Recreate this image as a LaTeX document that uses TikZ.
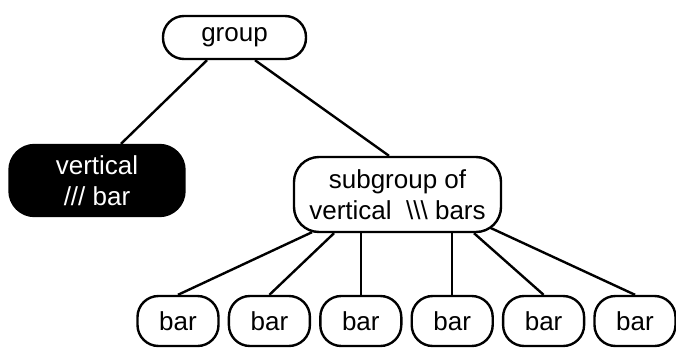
\documentclass[tikz,border=0pt]{standalone}
\usepackage{fontspec}
\setmainfont{Liberation Sans}
\usetikzlibrary{positioning, calc, backgrounds}

\begin{document}
\begin{tikzpicture}[
    x=1pt, y=1pt,
    line width=2.4pt,
    node distance=91.4pt,
    font=\fontsize{26}{31}\selectfont,
    box/.style={draw, fill=white, rounded corners=21pt, inner sep=0pt, align=center},
    barbox/.style={box, minimum width=81pt, minimum height=50pt},
    link/.style={line width=2.4pt}
]
\useasboundingbox (0,0) rectangle (676,349);

% Define nodes
\node (grp) [box, minimum width=143pt, minimum height=43pt] at (234.5,311.5) {group};
\node (vbar) [box, fill=black, text=white, rounded corners=25pt,
    minimum width=175pt, minimum height=71pt] at (97,168.5) {vertical\\/// bar};
\node (sub) [box, rounded corners=25pt, minimum width=207pt, minimum height=75pt]
    at (397.5,154.5) {subgroup of\\vertical \ \textbackslash\textbackslash\textbackslash\ bars};

% Row of bars
\node (B1) [barbox] at (178,28) {bar};
\node (B2) [barbox, right of=B1] {bar};
\node (B3) [barbox, right of=B2] {bar};
\node (B4) [barbox, right of=B3] {bar};
\node (B5) [barbox, right of=B4] {bar};
\node (B6) [barbox, right of=B5] {bar};

\begin{scope}[on background layer]
% Edges from group
\draw[link] ([xshift=-27.5pt]grp.south) -- ([xshift=24pt]vbar.north);
\draw[link] ([xshift=20.5pt]grp.south) -- ([xshift=-8.5pt]sub.north);

% Edges to bars
\draw[link] ([xshift=-85.5pt,yshift=1pt]sub.south) -- (B1.north);
\draw[link] ([xshift=-63.5pt]sub.south) -- (B2.north);
\draw[link] (B3.north) -- (B3.north |- sub.south);
\draw[link] (B4.north) -- (B4.north |- sub.south);
\draw[link] ([xshift=76.5pt]sub.south) -- (B5.north);
\draw[link] ([xshift=83.5pt,yshift=9.7pt]sub.south) -- (B6.north);
\end{scope}

\end{tikzpicture}
\end{document}
